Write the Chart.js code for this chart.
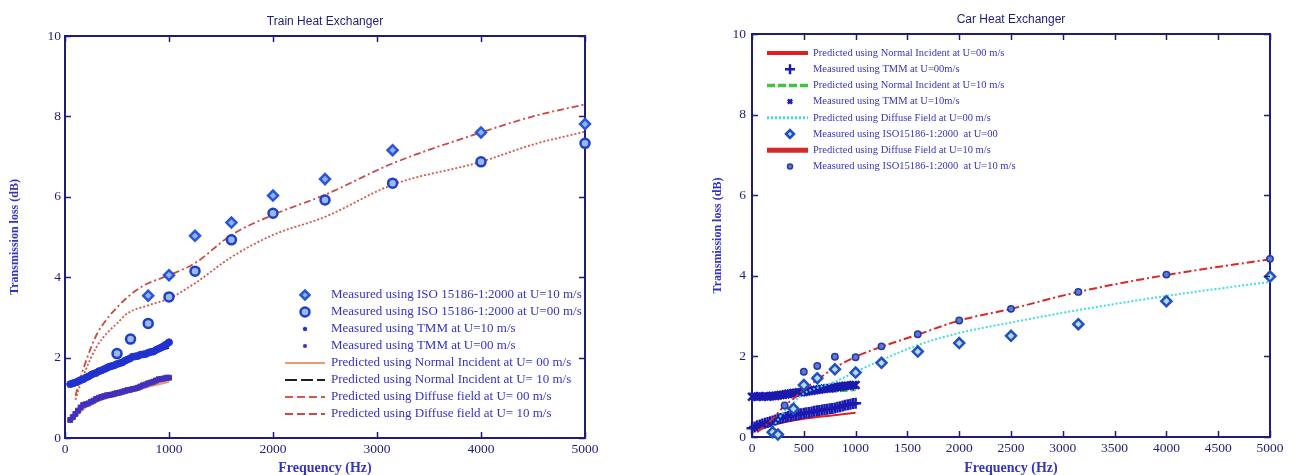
<!DOCTYPE html>
<html>
<head>
<meta charset="utf-8">
<script src="https://cdn.jsdelivr.net/npm/chart.js@4.4.1/dist/chart.umd.min.js"></script>
<style>
  html, body { margin: 0; padding: 0; background: #fff; }
  .box { position: absolute; top: 0; height: 475px; width: 640px; }
  #left  { left: 0; }
  #right { left: 655px; }
</style>
</head>
<body>
<div class="box" id="left"><canvas id="train"></canvas></div>
<div class="box" id="right"><canvas id="car"></canvas></div>
<script>
// Two MATLAB-style plots: transmission loss of train / car heat exchangers.
const NAVY = "#1e1e78"
const LABEL_BLUE = "#3434c4"

// ---- Train heat exchanger (left) ----
const trainXTicks = [0, 1000, 2000, 3000, 4000, 5000]
const trainYTicks = [0, 2, 4, 6, 8, 10]

const trainBandFreq = [50, 75, 100, 125, 150, 175, 200, 225, 250, 275, 300, 325, 350, 375, 400, 425, 450, 475, 500, 525,
                       550, 575, 600, 625, 650, 675, 700, 725, 750, 775, 800, 825, 850, 875, 900, 925, 950, 975, 1000]
const trainTmmU10 = [1.34, 1.36, 1.38, 1.41, 1.44, 1.46, 1.50, 1.53, 1.57, 1.60, 1.62, 1.66, 1.68, 1.71, 1.74, 1.77, 1.79, 1.81, 1.84, 1.86,
                     1.88, 1.92, 1.95, 1.98, 2.02, 2.03, 2.04, 2.07, 2.08, 2.09, 2.12, 2.14, 2.15, 2.19, 2.22, 2.25, 2.29, 2.33, 2.38]
const trainTmmU00 = [0.45, 0.52, 0.60, 0.68, 0.76, 0.82, 0.84, 0.86, 0.90, 0.93, 0.97, 1.00, 1.02, 1.04, 1.06, 1.07, 1.08, 1.10, 1.12, 1.13,
                     1.15, 1.17, 1.19, 1.20, 1.22, 1.23, 1.25, 1.28, 1.31, 1.33, 1.36, 1.38, 1.40, 1.43, 1.46, 1.47, 1.48, 1.50, 1.50]

const trainNormalFreq = [50, 200, 400, 600, 800, 1000]
const trainNormalU00  = [0.42, 0.80, 1.02, 1.15, 1.30, 1.42]
const trainNormalU10  = [1.32, 1.47, 1.72, 1.93, 2.08, 2.24]

const trainDiffuseFreq10 = [100, 150, 200, 300, 400, 500, 600, 700, 800, 900, 1000, 1250, 1600, 2000, 2500, 3150, 4000, 4500, 5000]
const trainDiffuseU10    = [1.05, 1.50, 1.90, 2.55, 2.95, 3.25, 3.50, 3.70, 3.85, 3.95, 4.05, 4.35, 5.05, 5.55, 6.05, 6.83, 7.60, 8.00, 8.30]
const trainDiffuseFreq00 = [100, 150, 200, 300, 400, 500, 600, 800, 1000, 1250, 1600, 2000, 2500, 3150, 4000, 4500, 5000]
const trainDiffuseU00    = [0.95, 1.35, 1.70, 2.25, 2.60, 2.85, 3.10, 3.30, 3.47, 3.85, 4.50, 5.05, 5.50, 6.30, 6.87, 7.30, 7.62]

const trainIsoFreqU10 = [800, 1000, 1250, 1600, 2000, 2500, 3150, 4000, 5000]
const trainIsoU10     = [3.54, 4.05, 5.03, 5.36, 6.03, 6.44, 7.16, 7.60, 7.81]
const trainIsoFreqU00 = [500, 630, 800, 1000, 1250, 1600, 2000, 2500, 3150, 4000, 5000]
const trainIsoU00     = [2.10, 2.46, 2.85, 3.51, 4.15, 4.93, 5.59, 5.92, 6.34, 6.87, 7.33]

// ---- Car heat exchanger (right) ----
const carXTicks = [0, 500, 1000, 1500, 2000, 2500, 3000, 3500, 4000, 4500, 5000]
const carYTicks = [0, 2, 4, 6, 8, 10]

const carBandFreq = [0, 25, 50, 75, 100, 125, 150, 175, 200, 225, 250, 275, 300, 325, 350, 375, 400, 425, 450, 475, 500,
                     525, 550, 575, 600, 625, 650, 675, 700, 725, 750, 775, 800, 825, 850, 875, 900, 925, 950, 975, 1000]
const carTmmU10 = [1.00, 1.01, 1.00, 1.01, 1.00, 1.01, 1.00, 1.01, 1.02, 1.02, 1.03, 1.04, 1.05, 1.06, 1.07, 1.08, 1.09, 1.10, 1.11, 1.11, 1.12,
                   1.13, 1.14, 1.15, 1.16, 1.17, 1.18, 1.19, 1.20, 1.21, 1.21, 1.22, 1.23, 1.24, 1.25, 1.26, 1.27, 1.27, 1.28, 1.29, 1.29]
const carTmmU00 = [0.22, 0.25, 0.28, 0.30, 0.32, 0.34, 0.36, 0.38, 0.40, 0.42, 0.45, 0.46, 0.48, 0.49, 0.51, 0.52, 0.54, 0.55, 0.56, 0.58, 0.59,
                   0.60, 0.61, 0.62, 0.64, 0.65, 0.66, 0.67, 0.68, 0.69, 0.70, 0.71, 0.72, 0.74, 0.75, 0.77, 0.79, 0.80, 0.81, 0.83, 0.84]

const carNormalFreq = [0, 250, 500, 750, 1000]
const carNormalU00  = [0.18, 0.33, 0.45, 0.53, 0.60]
const carNormalU10  = [1.00, 1.02, 1.08, 1.12, 1.16]

const carDiffuseFreq10 = [50, 200, 315, 400, 500, 630, 800, 1000, 1250, 1600, 2000, 2500, 3150, 4000, 5000]
const carDiffuseU10    = [0.12, 0.45, 0.78, 0.95, 1.17, 1.42, 1.72, 1.99, 2.24, 2.54, 2.89, 3.18, 3.60, 4.02, 4.41]
const carDiffuseFreq00 = [150, 200, 315, 400, 500, 630, 800, 1000, 1250, 1600, 2000, 2500, 3150, 4000, 5000]
const carDiffuseU00    = [0.10, 0.25, 0.65, 0.85, 1.08, 1.22, 1.37, 1.62, 1.91, 2.28, 2.58, 2.84, 3.15, 3.50, 3.85]

const carIsoFreqU00 = [200, 250, 400, 500, 630, 800, 1000, 1250, 1600, 2000, 2500, 3150, 4000, 5000]
const carIsoU00     = [0.12, 0.06, 0.70, 1.29, 1.46, 1.68, 1.60, 1.84, 2.12, 2.33, 2.51, 2.80, 3.37, 3.98]
const carIsoFreqU10 = [315, 500, 630, 800, 1000, 1250, 1600, 2000, 2500, 3150, 4000, 5000]
const carIsoU10     = [0.78, 1.62, 1.76, 1.99, 1.98, 2.25, 2.55, 2.89, 3.18, 3.60, 4.03, 4.42]

const pts = (xs, ys) => xs.map((x, i) => ({ x, y: ys[i] }))

const line = (label, xs, ys, color, width, dash, order, extra = {}) => ({
  label, data: pts(xs, ys), showLine: true, borderColor: color, backgroundColor: color,
  borderWidth: width, borderDash: dash, pointRadius: 0, fill: false,
  cubicInterpolationMode: "monotone", order, ...extra,
})

const marks = (label, xs, ys, style, radius, bg, border, width, order, extra = {}) => ({
  label, data: pts(xs, ys), showLine: false, pointStyle: style, pointRadius: radius,
  backgroundColor: bg, borderColor: border, borderWidth: width, order, clip: 8, ...extra,
})

// draws box, inward ticks, labels, titles and an in-plot legend
function matlabFrame(cfg) {
  return {
    id: "matlabFrame",
    beforeDatasetsDraw(chart) {
      const { ctx, chartArea: a } = chart
      ctx.save()
      ctx.strokeStyle = NAVY
      ctx.lineWidth = 2
      ctx.strokeRect(a.left, a.top, a.right - a.left, a.bottom - a.top)
      ctx.restore()
    },
    afterDraw(chart) {
      const { ctx, chartArea: a, scales: { x, y } } = chart
      ctx.save()
      ctx.strokeStyle = NAVY
      ctx.lineWidth = 1.5
      ctx.beginPath()
      cfg.xTicks.forEach(v => {
        const px = Math.round(x.getPixelForValue(v)) + 0.5
        ctx.moveTo(px, a.bottom); ctx.lineTo(px, a.bottom - 6)
        ctx.moveTo(px, a.top);    ctx.lineTo(px, a.top + 6)
      })
      cfg.yTicks.forEach(v => {
        const py = Math.round(y.getPixelForValue(v)) + 0.5
        ctx.moveTo(a.left, py);  ctx.lineTo(a.left + 6, py)
        ctx.moveTo(a.right, py); ctx.lineTo(a.right - 6, py)
      })
      ctx.stroke()

      ctx.fillStyle = NAVY
      ctx.font = '13.5px "Liberation Serif"'
      ctx.textAlign = "center"
      ctx.textBaseline = "top"
      cfg.xTicks.forEach(v => ctx.fillText(String(v), x.getPixelForValue(v), a.bottom + 5))
      ctx.textAlign = "right"
      ctx.textBaseline = "middle"
      cfg.yTicks.forEach(v => ctx.fillText(String(v), a.left - cfg.yLabelGap, y.getPixelForValue(v)))

      ctx.font = '12px "Liberation Sans"'
      ctx.textAlign = "center"
      ctx.fillText(cfg.title, cfg.titleX, cfg.titleY)

      ctx.fillStyle = LABEL_BLUE
      ctx.font = 'bold 14px "Liberation Serif"'
      ctx.fillText("Frequency (Hz)", (a.left + a.right) / 2, 468)
      ctx.save()
      ctx.translate(cfg.yTitleX, (a.top + a.bottom) / 2)
      ctx.rotate(-Math.PI / 2)
      ctx.font = 'bold 12px "Liberation Serif"'
      ctx.fillText("Transmission loss (dB)", 0, 0)
      ctx.restore()

      const lg = cfg.legend
      chart.data.datasets.forEach((ds, i) => {
        const cy = lg.top + i * lg.step
        ctx.save()
        if (ds.showLine) {
          ctx.strokeStyle = ds.borderColor
          ctx.lineWidth = ds.legendWidth || ds.borderWidth
          ctx.setLineDash(ds.legendDash || ds.borderDash || [])
          ctx.beginPath()
          ctx.moveTo(lg.lineFrom, cy); ctx.lineTo(lg.lineTo, cy)
          ctx.stroke()
        } else {
          ctx.fillStyle = ds.backgroundColor
          ctx.strokeStyle = ds.borderColor
          ctx.lineWidth = ds.borderWidth
          Chart.helpers.drawPoint(ctx, {
            pointStyle: ds.pointStyle, rotation: 0,
            radius: ds.legendRadius || ds.pointRadius, borderWidth: ds.borderWidth,
          }, lg.marker, cy)
        }
        ctx.restore()
        ctx.fillStyle = LABEL_BLUE
        ctx.font = lg.font
        ctx.textAlign = "left"
        ctx.textBaseline = "middle"
        ctx.fillText(ds.label, lg.text, cy)
      })
      ctx.restore()
    },
  }
}

function makeChart(id, datasets, cfg) {
  return new Chart(document.getElementById(id), {
    type: "scatter",
    data: { datasets },
    options: {
      responsive: true,
      maintainAspectRatio: false,
      animation: false,
      layout: { padding: cfg.padding },
      scales: {
        x: { type: "linear", min: 0, max: 5000, display: false },
        y: { type: "linear", min: 0, max: 10, display: false },
      },
      plugins: { legend: { display: false }, tooltip: { enabled: false } },
    },
    plugins: [matlabFrame(cfg)],
  })
}

makeChart("train", [
  marks("Measured using ISO 15186-1:2000 at U=10 m/s", trainIsoFreqU10, trainIsoU10, "rectRot", 5, "#8fb0f0", "#2a56d6", 2.5, 0, { legendRadius: 4.5 }),
  marks("Measured using ISO 15186-1:2000 at U=00 m/s", trainIsoFreqU00, trainIsoU00, "circle", 4.5, "#9ab8f2", "#2040c4", 2.5, 1),
  marks("Measured using TMM at U=10 m/s", trainBandFreq, trainTmmU10, "circle", 3.5, "#1f2fd6", "#2436c8", 1, 2, { legendRadius: 1.8 }),
  marks("Measured using TMM at U=00 m/s", trainBandFreq, trainTmmU00, "rect", 3.5, "#3a30c4", "#4a32b8", 1, 3, { legendRadius: 1.8 }),
  line("Predicted using Normal Incident at U= 00 m/s", trainNormalFreq, trainNormalU00, "#e89a70", 4, [], 5, { legendWidth: 2 }),
  line("Predicted using Normal Incident at U= 10 m/s", trainNormalFreq, trainNormalU10, "#202020", 1.5, [12, 4], 4, { legendWidth: 2 }),
  line("Predicted using Diffuse field at U= 00 m/s", trainDiffuseFreq00, trainDiffuseU00, "#d4584c", 1.8, [2, 2], 6, { legendDash: [8, 4] }),
  line("Predicted using Diffuse field at U= 10 m/s", trainDiffuseFreq10, trainDiffuseU10, "#c84a44", 1.8, [7, 3, 2, 3], 7, { legendDash: [8, 4] }),
], {
  padding: { left: 65, right: 55, top: 36, bottom: 37 },
  xTicks: trainXTicks, yTicks: trainYTicks, yLabelGap: 4,
  title: "Train Heat Exchanger", titleX: 325, titleY: 22, yTitleX: 15,
  legend: { top: 295, step: 17, lineFrom: 285, lineTo: 325, marker: 305, text: 331, font: '13px "Liberation Serif"' },
})

makeChart("car", [
  line("Predicted using Normal Incident at U=00 m/s", carNormalFreq, carNormalU00, "#e02020", 2, [], 7, { legendWidth: 4 }),
  marks("Measured using TMM at U=00m/s", carBandFreq, carTmmU00, "cross", 5.5, "#1a1ab0", "#1a1ab0", 2.5, 5, { legendRadius: 5 }),
  line("Predicted using Normal Incident at U=10 m/s", carNormalFreq, carNormalU10, "#3cc83c", 2, [8, 3], 6, { legendWidth: 3.5 }),
  marks("Measured using TMM at U=10m/s", carBandFreq, carTmmU10, "crossRot", 5.5, "#1a1ab0", "#1a1ab0", 2.5, 4, { legendRadius: 3 }),
  line("Predicted using Diffuse Field at U=00 m/s", carDiffuseFreq00, carDiffuseU00, "#40dce8", 2, [2, 2], 3, { legendWidth: 3 }),
  marks("Measured using ISO15186-1:2000  at U=00", carIsoFreqU00, carIsoU00, "rectRot", 5, "#b8d8f8", "#2050c0", 2.5, 1, { legendRadius: 4 }),
  line("Predicted using Diffuse Field at U=10 m/s", carDiffuseFreq10, carDiffuseU10, "#d82828", 2, [8, 3, 2, 3], 2, { legendWidth: 5, legendDash: [] }),
  marks("Measured using ISO15186-1:2000  at U=10 m/s", carIsoFreqU10, carIsoU10, "circle", 3.2, "#5a7ad8", "#2a3aa0", 1.5, 0, { legendRadius: 2.5 }),
], {
  padding: { left: 97, right: 25, top: 34, bottom: 38 },
  xTicks: carXTicks, yTicks: carYTicks, yLabelGap: 6,
  title: "Car Heat Exchanger", titleX: 356, titleY: 20, yTitleX: 63,
  legend: { top: 53, step: 16.2, lineFrom: 112, lineTo: 153, marker: 135, text: 158, font: '10.5px "Liberation Serif"' },
})
</script>
</body>
</html>
